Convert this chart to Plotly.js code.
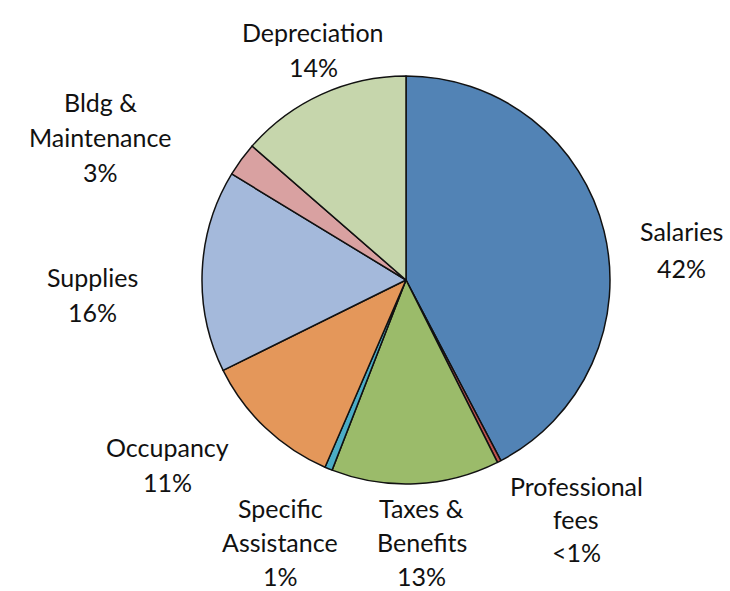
<!DOCTYPE html>
<html><head><meta charset="utf-8">
<script src="https://cdn.plot.ly/plotly-3.0.1.min.js"></script>
<style>html,body{margin:0;padding:0;background:#fff}#chart{width:730px;height:591px}</style>
</head><body><div id="chart"></div>
<script>
// Data
var categories = ["Salaries","Professional fees","Taxes & Benefits","Specific Assistance","Occupancy","Supplies","Bldg & Maintenance","Depreciation"];
var values = [42.3, 0.3, 13.3, 0.6, 11.2, 16.0, 2.7, 13.6];
var pctLabels = ["42%","<1%","13%","1%","11%","16%","3%","14%"];
var labelLines = [["Salaries"],["Professional","fees"],["Taxes &","Benefits"],["Specific","Assistance"],["Occupancy"],["Supplies"],["Bldg &","Maintenance"],["Depreciation"]];
var colors = ["#5283B5","#C0504D","#9BBB6A","#4BACC6","#E4975A","#A4B9DB","#D9A1A1","#C6D6AC"];

// label anchor positions (px centre x, first-line y) – layout only
var labelPos = [[681,231],[576,486],[422,508],[280,508],[167,447],[92,277],[100,102],[313,32]];
var lineGap = [37,33,34,34,35,35,35,35];

var W=730,H=591;
var annotations=[];
categories.forEach(function(c,i){
  var lines = labelLines[i].concat([pctLabels[i]]);
  lines.forEach(function(t,k){
    annotations.push({
      text:t, showarrow:false, xref:'paper', yref:'paper',
      x:labelPos[i][0]/W, y:1-(labelPos[i][1]+k*lineGap[i])/H,
      xanchor:'center', yanchor:'middle', borderpad:0,
      font:{family:'Lato, "Open Sans", sans-serif', size:25, color:'#111'}
    });
  });
});

var cx=406, cy=280, r=204;
var trace = {
  type:'pie', labels:categories, values:values, sort:false, direction:'clockwise',
  rotation:0, textinfo:'none', hoverinfo:'label+percent',
  marker:{colors:colors, line:{color:'#111', width:1.5}},
  domain:{x:[(cx-r)/W,(cx+r)/W], y:[1-(cy+r)/H, 1-(cy-r)/H]},
  showlegend:false
};
Plotly.newPlot('chart',[trace],{
  width:W,height:H,margin:{l:0,r:0,t:0,b:0},
  paper_bgcolor:'#fff', showlegend:false, annotations:annotations
},{displayModeBar:false});
</script></body></html>
